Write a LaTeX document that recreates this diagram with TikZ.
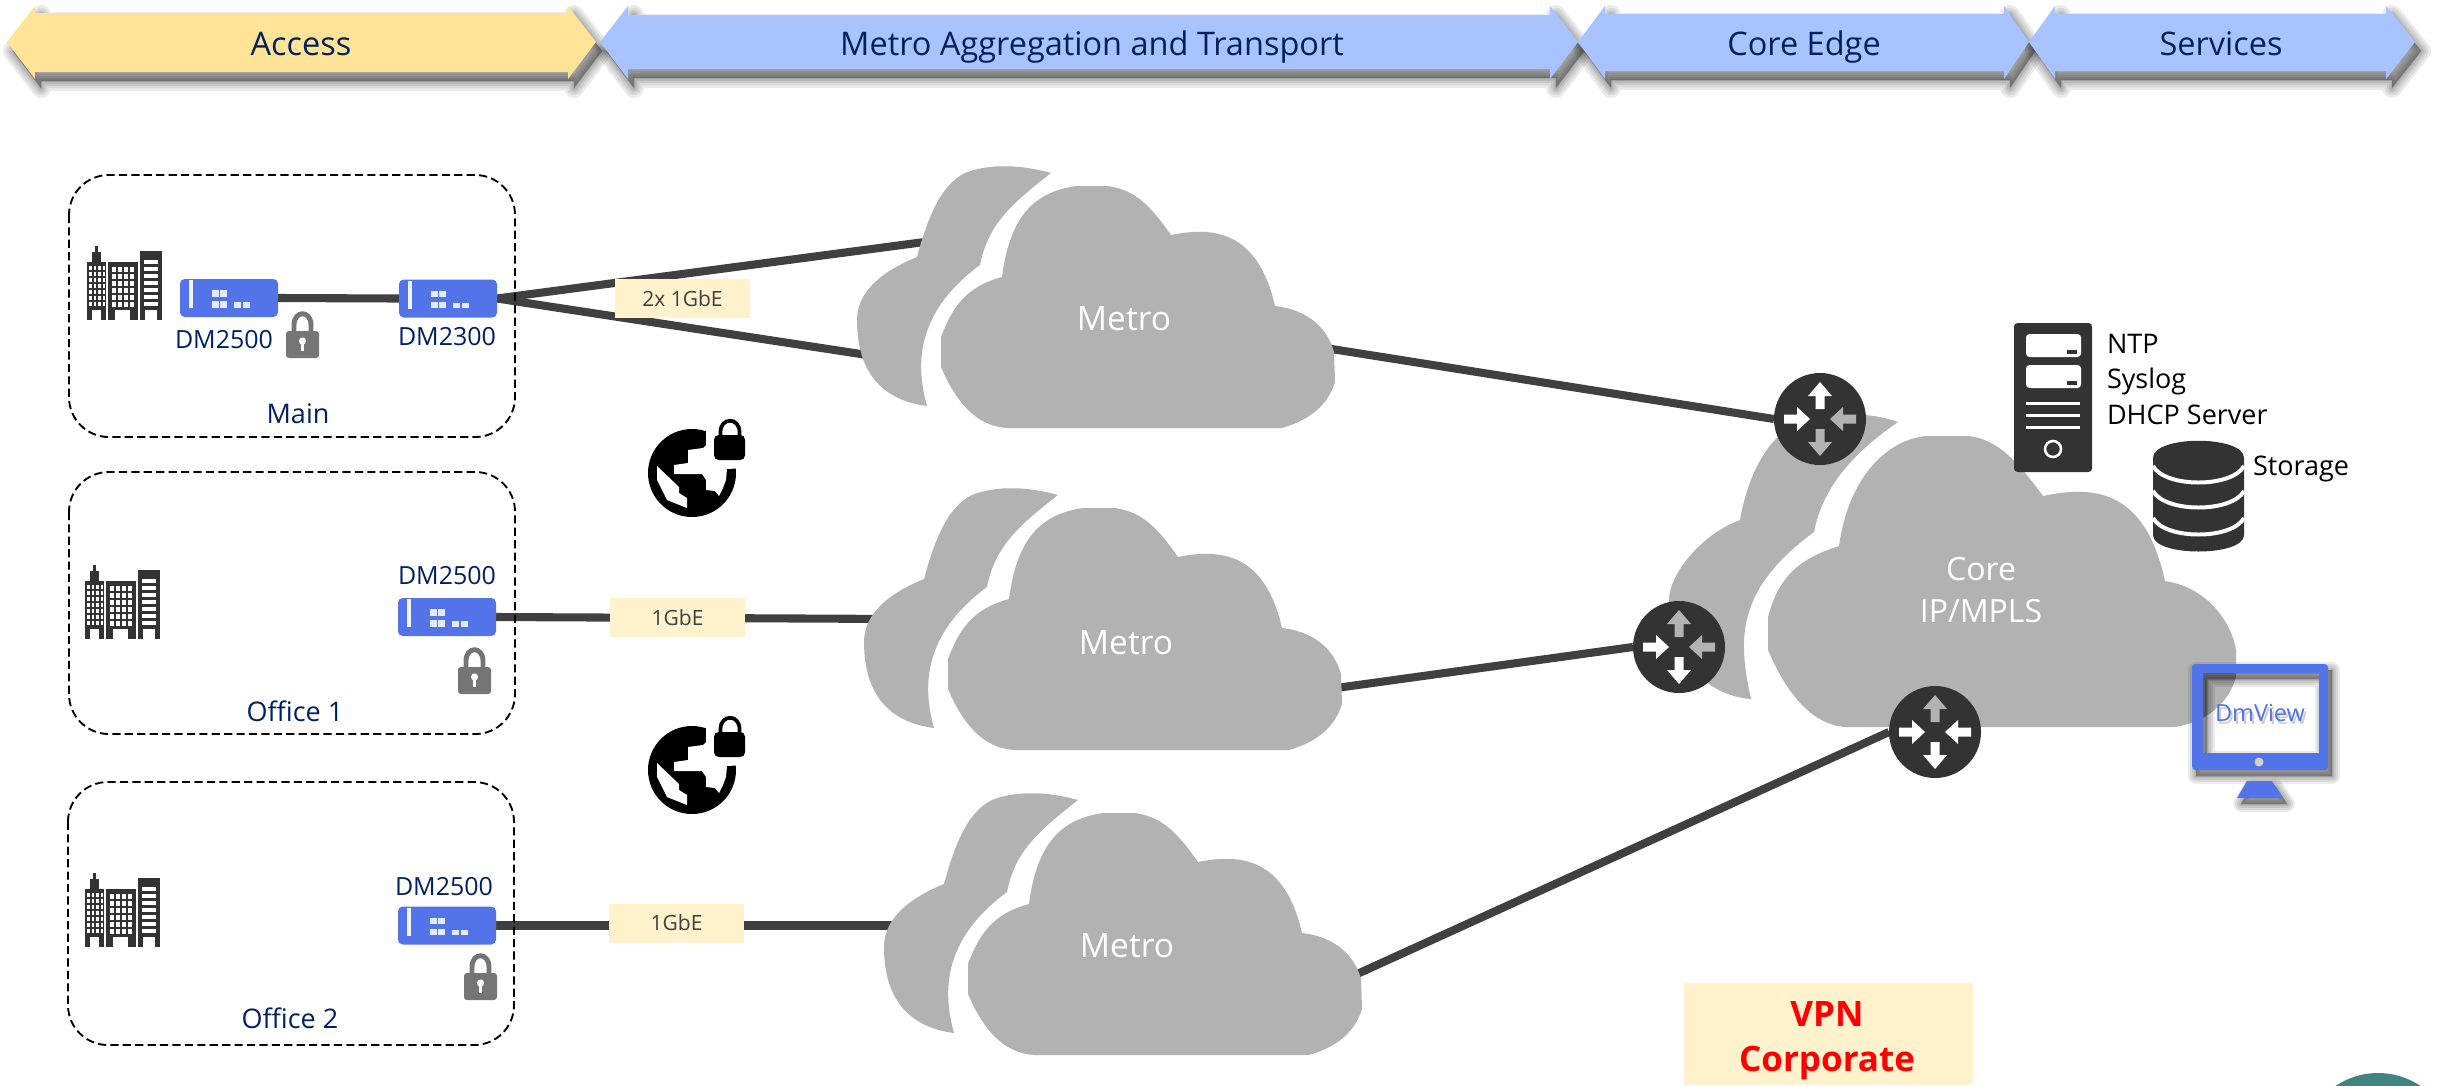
\documentclass[tikz,border=0pt]{standalone}
\usepackage{fontspec}
\setmainfont{Open Sans}
\pgfdeclarelayer{wires}
\pgfdeclarelayer{clouds}
\pgfsetlayers{wires,clouds,main}
\definecolor{navy}{HTML}{002060}
\definecolor{wirec}{HTML}{404040}
\definecolor{cloudc}{HTML}{B2B2B2}
\definecolor{darkc}{HTML}{333333}
\definecolor{devc}{HTML}{5373E8}
\definecolor{yel}{HTML}{FFE396}
\definecolor{blu}{HTML}{A8C3FF}
\definecolor{creamc}{HTML}{FFF2CC}
\definecolor{lockc}{HTML}{757575}
\definecolor{tealc}{HTML}{3F8480}
\newcommand\pxf[1]{\fontsize{\fpeval{#1*0.8536}}{\fpeval{#1*0.9}}\selectfont}
\tikzset{
  x=0.03cm,y=-0.03cm,
  wire/.style={line width=6.9pt,color=wirec},
  txt/.style={inner sep=0pt,outer sep=0pt,align=center},
  hdrtxt/.style={txt,anchor=base,text=navy,font=\pxf{32.5}},
  site/.style={draw=black,line width=1.6pt,dash pattern=on 7pt off 3.6pt,rounded corners=34pt},
  sitetxt/.style={txt,text=navy,font=\pxf{27}},
  devtxt/.style={txt,text=navy,font=\pxf{25}},
  infotxt/.style={txt,text=black,anchor=base west,font=\pxf{27}},
  cloudtxt/.style={txt,text=white,font=\pxf{33.5}},
  device/.style={fill=devc,rounded corners=4pt,minimum width=2.94cm,minimum height=1.14cm,inner sep=0pt,outer sep=0pt},
  speed/.style={fill=creamc,minimum width=4.05cm,minimum height=1.17cm,inner sep=0pt,outer sep=0pt,text=wirec,font=\pxf{21}},
  routerdisc/.style={circle,fill=darkc,minimum size=2.76cm,inner sep=0pt,outer sep=0pt},
  softshadow/.style={black,fill opacity=.08,draw=black,draw opacity=.08,line join=round},
}
% header arrow
\newcommand\hdr[7]{%
  \foreach \w in {20,15,10,6,2}{
    \fill[softshadow,line width=\w*0.85pt]
      (#1+6,42+9)--(#2+6,6+9)--(#2+6,#5+9)--(#3+6,#5+9)--(#3+6,6+9)--(#4+6,42+9)--(#3+6,79+9)--(#3+6,#6+9)--(#2+6,#6+9)--(#2+6,79+9)--cycle;}
  \fill[#7] (#1,42)--(#2,6)--(#2,#5)--(#3,#5)--(#3,6)--(#4,42)--(#3,79)--(#3,#6)--(#2,#6)--(#2,79)--cycle;}
% building, local origin top-left
\newcommand\building[3]{%
  \begin{scope}[shift={(#1,#2)},yscale=#3]
    \fill[darkc] (0,16) rectangle (19,74);
    \fill[darkc] (5,6) rectangle (14,16);
    \fill[darkc] (7.5,0) rectangle (10.5,6);
    \fill[darkc] (21,16) rectangle (51,74);
    \fill[darkc] (53,5) rectangle (75,74);
    \fill[white] (5,64) rectangle (14,74);
    \fill[white] (28,64) rectangle (43,74);
    \fill[white] (58,64) rectangle (70,74);
    \foreach \c in {2,6.5,11,15.5}{\foreach \r in {20,26,32,38,44,50,56}{\fill[white] (\c,\r) rectangle (\c+2.6,\r+4);}}
    \foreach \c in {25,31,37,43}{\foreach \r in {21,28,35,42,49,56}{\fill[white] (\c,\r) rectangle (\c+4,\r+5);}}
    \foreach \r in {14,21,28,35,42,49,56}{\fill[white] (57,\r) rectangle (71,\r+3.5);}
  \end{scope}}
% grey lock, local origin top-left
\newcommand\lockicon[2]{%
  \begin{scope}[shift={(#1,#2)}]
    \draw[lockc,line width=4.2pt] (8,20)--(8,12) .. controls (8,-3) and (25,-3) .. (25,12)--(25,20);
    \fill[lockc,rounded corners=2.5pt] (0,18) rectangle (33,45);
    \fill[white] (16.5,28) circle[radius=3.6];
    \fill[white] (14.8,28) rectangle (18.2,38);
  \end{scope}}
% marks on a device, from its node centre
\newcommand\devmarks[2]{%
  \begin{scope}[shift={(#1,#2)}]
    \fill[white!92!devc] (-40,-18) rectangle (-36,10);
    \foreach \a in {-17,-9}{\fill[white!85!devc] (\a,-8) rectangle (\a+7,-1.5);\fill[white!85!devc] (\a,3) rectangle (\a+7,9.5);}
    \foreach \a in {5,14}{\fill[white!85!devc] (\a,4) rectangle (\a+7,9.5);}
  \end{scope}}
% cloud, drawn with the coordinates of the first metro
\newcommand\metrocloud[2]{%
  \begin{pgfonlayer}{clouds}
  \begin{scope}[shift={(#1,#2)}]
  \fill[cloudc] (1051,173) .. controls (1015,163) and (985,165) .. (965,173)
     .. controls (940,185) and (927,220) .. (917,257)
     .. controls (885,270) and (857,290) .. (857,320)
     .. controls (857,370) and (880,400) .. (927,406)
     .. controls (917,370) and (912,315) .. (980,265)
     .. controls (988,225) and (1010,205) .. (1051,173) -- cycle;
  \fill[cloudc] (941,337) .. controls (952,308) and (965,287) .. (1002,277)
     .. controls (1010,215) and (1035,192) .. (1076,186) -- (1108,186)
     .. controls (1135,190) and (1150,205) .. (1171,235)
     .. controls (1215,226) and (1258,232) .. (1275,306)
     .. controls (1310,310) and (1328,330) .. (1334,352) -- (1335,382)
     .. controls (1328,405) and (1310,420) .. (1282,428) -- (1007,428)
     .. controls (975,426) and (955,400) .. (941,367) -- cycle;
  \end{scope}
  \end{pgfonlayer}}
% router arrows
\newcommand\routermarks[6]{%
  \begin{scope}[shift={(#1,#2)}]
    \fill[#3] (-4.5,-10) -- (-4.5,-23) -- (-12,-23) -- (0,-37) -- (12,-23) -- (4.5,-23) -- (4.5,-10) -- cycle;
    \fill[#6] (-4.5,10) -- (-4.5,23) -- (-12,23) -- (0,37) -- (12,23) -- (4.5,23) -- (4.5,10) -- cycle;
    \fill[#4] (-36,-4.5) -- (-23,-4.5) -- (-23,-12) -- (-10,0) -- (-23,12) -- (-23,4.5) -- (-36,4.5) -- cycle;
    \fill[#5] (36,-4.5) -- (23,-4.5) -- (23,-12) -- (10,0) -- (23,12) -- (23,4.5) -- (36,4.5) -- cycle;
  \end{scope}}
% globe with black lock, from its centre
\newcommand\globe[2]{%
  \begin{scope}[shift={(#1,#2)}]
    \fill[black] (0,0) circle[radius=44];
    \fill[white] (14,-50)--(55,-50)--(55,-5)--(35,-4)--(34,7)--(31,15)--(27,23)--(23,18)--(14,17)--(14,7)--(10,1)--(-18,1)--(-18,-8)--(-4,-10)--(-4,-23)--(11,-25)--(14,-28)--cycle;
    \fill[white] (-35,-7)--(-13,14)--(-13,20)--(-5,25)--(-5,35)--(-25,27)--(-35,7)--cycle;
    \draw[black,line width=3.2pt] (28.5,-36)--(28.5,-41) .. controls (28.5,-56) and (47.5,-56) .. (47.5,-41)--(47.5,-36);
    \fill[black,rounded corners=4pt] (22,-38) rectangle (53,-13);
  \end{scope}}
\begin{document}
\begin{tikzpicture}
\path[use as bounding box,clip] (0,0) rectangle (2438,1085);
% headers
\hdr{7}{35}{568}{596}{13}{72}{yel}
\hdr{600}{628}{1550}{1578}{15}{69}{blu}
\hdr{1578}{1605}{2004}{2029}{14}{71}{blu}
\hdr{2029}{2055}{2386}{2415}{14}{71}{blu}
\node[hdrtxt] (haccess) at (301,55) {Access};
\node[hdrtxt] (hmetro) at (1092,55) {Metro Aggregation and Transport};
\node[hdrtxt] (hcore) at (1804,55) {Core Edge};
\node[hdrtxt] (hserv) at (2221,55) {Services};
% sites
\draw[site] (69,175) rectangle (515,437);
\draw[site] (69,472) rectangle (515,734);
\draw[site] (68,782) rectangle (514,1045);
\node[sitetxt] (smain) at (298,414) {Main};
\node[sitetxt] (soff1) at (295,711) {Office 1};
\node[sitetxt] (soff2) at (290,1018) {Office 2};
\building{87}{246}{1}
\building{85}{565}{1}
\building{85}{873}{1}
% devices
\node[device] (d1) at (229,298) {};
\node[device] (d2) at (448,298.5) {};
\node[device] (d3) at (447,617) {};
\node[device] (d4) at (447,925.5) {};
\devmarks{229}{298}\devmarks{448}{298.5}\devmarks{447}{617}\devmarks{447}{925.5}
\node[devtxt] (t1) at (224,340) {DM2500};
\node[devtxt] (t2) at (447,337) {DM2300};
\node[devtxt] (t3) at (447,576) {DM2500};
\node[devtxt] (t4) at (444,887) {DM2500};
\lockicon{286}{313}
\lockicon{458}{649}
\lockicon{464}{955}
\globe{692}{473}
\globe{692}{770}
% speed labels
\node[speed] (s1) at (682.5,298.5) {2x 1GbE};
\node[speed] (s2) at (677.5,617.5) {1GbE};
\node[speed] (s3) at (676.5,923) {1GbE};
% clouds
\metrocloud{0}{0}
\metrocloud{7}{322}
\metrocloud{27}{627}
\node[cloudtxt] (m1) at (1124,319) {Metro};
\node[cloudtxt] (m2) at (1126,643) {Metro};
\node[cloudtxt] (m3) at (1127,946) {Metro};
% core
\begin{pgfonlayer}{clouds}
\fill[cloudc] (1898,422) .. controls (1870,412) and (1830,410) .. (1790,428)
   .. controls (1760,445) and (1745,490) .. (1740,520)
   .. controls (1700,535) and (1669,575) .. (1669,600)
   .. controls (1669,650) and (1700,695) .. (1751,699)
   .. controls (1738,640) and (1735,590) .. (1814,532)
   .. controls (1822,490) and (1850,455) .. (1898,422) -- cycle;
\fill[cloudc] (1768,617) .. controls (1778,580) and (1795,560) .. (1839,546)
   .. controls (1848,480) and (1885,440) .. (1926,436) -- (1969,436)
   .. controls (2000,440) and (2020,465) .. (2043,496)
   .. controls (2095,485) and (2145,490) .. (2165,581)
   .. controls (2210,588) and (2232,625) .. (2236,650) -- (2236,677)
   .. controls (2228,705) and (2205,722) .. (2175,727) -- (1846,727)
   .. controls (1810,725) and (1785,690) .. (1768,650) -- cycle;
\end{pgfonlayer}
\node[cloudtxt,font=\pxf{32}] (core) at (1981,590) {Core\\[7pt]IP/MPLS};
% routers
\node[routerdisc] (r1) at (1820,419) {};
\node[routerdisc] (r2) at (1679,647) {};
\node[routerdisc] (r3) at (1935,732) {};
\routermarks{1820}{419}{white}{white}{cloudc}{cloudc}
\routermarks{1679}{647}{cloudc}{white}{cloudc}{white}
\routermarks{1935}{732}{cloudc}{white}{white}{white}
% wires
\coordinate (m1a) at (970,236);
\coordinate (m1b) at (900,360);
\coordinate (m1c) at (1300,344);
\coordinate (m2a) at (900,619);
\coordinate (m2c) at (1300,693);
\coordinate (m3a) at (920,925.5);
\coordinate (m3c) at (1300,1000);
\begin{pgfonlayer}{wires}
\draw[wire] (d1.east) -- (d2.west);
\draw[wire] (d2.east) -- (m1a);
\draw[wire] (d2.east) -- (m1b);
\draw[wire] (d3.east) -- (m2a);
\draw[wire] (d4.east) -- (m3a);
\draw[wire] (m1c) -- (r1.west);
\draw[wire] (m2c) -- (r2.west);
\draw[wire] (m3c) -- (r3.west);
\end{pgfonlayer}
% server
\fill[darkc,rounded corners=3pt] (2014,323) rectangle (2092,472);
\foreach \y in {334,365}{
  \fill[white,rounded corners=3pt] (2026,\y) rectangle (2081,\y+23);
  \fill[darkc] (2067,\y+16) rectangle (2077,\y+20);}
\foreach \y in {403,415,427}{\fill[white] (2026,\y-1.5) rectangle (2080,\y+1.5);}
\draw[white,line width=2.2pt] (2053,449) circle[radius=8];
\node[infotxt] (ntp) at (2107,353) {NTP};
\node[infotxt] (sys) at (2107,388) {Syslog};
\node[infotxt] (dhcp) at (2107,424) {DHCP Server};
% storage
\fill[darkc] (2153,458) -- (2153,535) .. controls (2153,557) and (2244,557) .. (2244,535) -- (2244,458) .. controls (2244,435) and (2153,435) .. (2153,458) -- cycle;
\foreach \y in {466,491,518}{
  \draw[white,line width=3.4pt] (2153,\y) .. controls (2165,\y+22) and (2232,\y+22) .. (2244,\y);}
\node[infotxt] (stor) at (2253,475) {Storage};
% monitor
\foreach \w in {16,12,8,4,1}{
  \fill[softshadow,even odd rule,line width=\w*0.85pt]
   (2196,670) rectangle (2332,776) (2207,679) rectangle (2323,759);
  \fill[softshadow,line width=\w*0.85pt] (2251,787)--(2276,787)--(2287,804)--(2241,804)--cycle;}
\fill[devc,even odd rule,rounded corners=3pt] (2192,664) rectangle (2328,770) (2203,673) [sharp corners] rectangle (2319,753);
\fill[cloudc!60!white] (2259,762) circle[radius=4.5];
\fill[devc] (2247,781)--(2272,781)--(2283,798)--(2237,798)--cycle;
\node[txt,text=black!20,font=\pxf{23.5}] at (2262,716) {DmView};
\node[txt,text=devc,font=\pxf{23.5}] (dmv) at (2260,713) {DmView};
% vpn
\fill[creamc] (1684,983) rectangle (1973,1085);
\node[txt,anchor=base,text=red,font=\pxf{35}\bfseries] (vpn1) at (1827,1026) {VPN};
\node[txt,anchor=base,text=red,font=\pxf{35}\bfseries] (vpn2) at (1827,1071) {Corporate};
\fill[tealc] (2378,1149) circle[radius=76];
\end{tikzpicture}
\end{document}
